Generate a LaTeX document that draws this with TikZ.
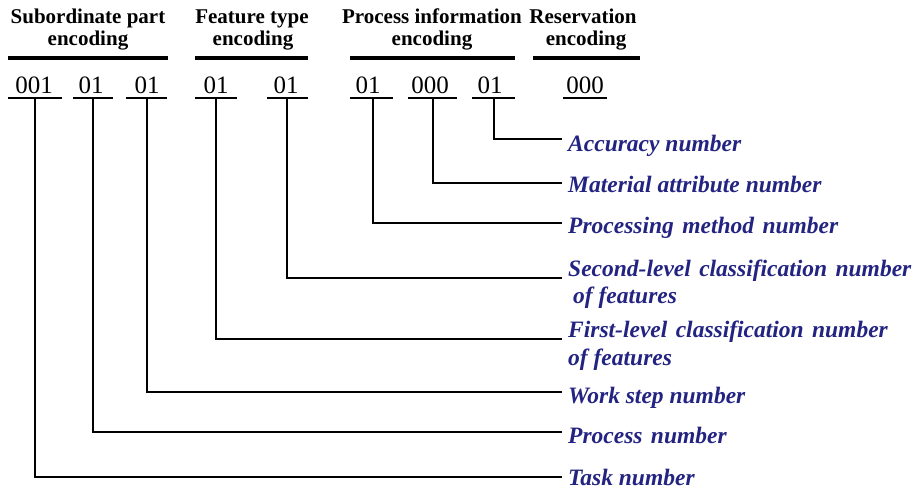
\documentclass[tikz,border=0pt]{standalone}
\usepackage{fontspec}
\setmainfont{Liberation Serif}
\definecolor{labc}{RGB}{35,35,130}
\newcommand{\xsp}{\hspace{2.5pt}}
\begin{document}
\begin{tikzpicture}[x=1pt,y=-1pt,
  head/.style={font=\fontsize{21}{22}\selectfont\bfseries, inner sep=0pt, anchor=base},
  dig/.style={font=\fontsize{25}{25}\selectfont, inner sep=0pt, anchor=base},
  lab/.style={font=\fontsize{23.5}{27}\selectfont\bfseries\itshape, text=labc, inner sep=0pt, anchor=base west},
  grp/.style={line width=3.5pt},
  ul/.style={line width=1.6pt},
  conn/.style={line width=1.6pt}]
\useasboundingbox (0,0) rectangle (915,491);
% headers
\node[head] (h1a) at (88,23) {Subordinate part};
\node[head] (h1b) at (88,45) {encoding};
\node[head] (h2a) at (252,23) {Feature type};
\node[head] (h2b) at (253,45) {encoding};
\node[head] (h3a) at (432,23) {Process information};
\node[head] (h3b) at (432,45) {encoding};
\node[head] (h4a) at (583,23) {Reservation};
\node[head] (h4b) at (586,45) {encoding};
% group underlines
\draw[grp] (8,58) -- (168,58);
\draw[grp] (195,58) -- (308,58);
\draw[grp] (350,58) -- (515,58);
\draw[grp] (533,58) -- (640,58);
% digits
\node[dig] (d1) at (34,93) {001};
\node[dig] (d2) at (91,93) {01};
\node[dig] (d3) at (147,93) {01};
\node[dig] (d4) at (216,93) {01};
\node[dig] (d5) at (286,93) {01};
\node[dig] (d6) at (368,93) {01};
\node[dig] (d7) at (430,93) {000};
\node[dig] (d8) at (490,93) {01};
\node[dig] (d9) at (585,93) {000};
% digit underlines
\draw[ul] (8,98) -- (62,98);
\draw[ul] (73,98) -- (113,98);
\draw[ul] (126,98) -- (167,98);
\draw[ul] (195,98) -- (237,98);
\draw[ul] (267,98) -- (308,98);
\draw[ul] (350,98) -- (393,98);
\draw[ul] (408,98) -- (457,98);
\draw[ul] (472,98) -- (515,98);
\draw[ul] (563,98) -- (607,98);
% connector start points
\coordinate (u1) at (35,98);
\coordinate (u2) at (93,98);
\coordinate (u3) at (147,98);
\coordinate (u4) at (216,98);
\coordinate (u5) at (287,98);
\coordinate (u6) at (373,98);
\coordinate (u7) at (433,98);
\coordinate (u8) at (494,98);
% connector ends
\coordinate (e1) at (562,477);
\coordinate (e2) at (562,432);
\coordinate (e3) at (562,392);
\coordinate (e4) at (562,339);
\coordinate (e5) at (562,278);
\coordinate (e6) at (562,223);
\coordinate (e7) at (562,183);
\coordinate (e8) at (562,139);
% labels
\node[lab] (t1) at (568,485) {Task number};
\node[lab] (t2) at (568,443) {Process\xsp{} number};
\node[lab] (t3) at (568,403) {Work step number};
\node[lab] (t4) at (568,337) {First-level\xsp{} classification\xsp{} number};
\node[lab] (t4b) at (568,365) {of features};
\node[lab] (t5) at (568,276) {Second-level\xsp{} classification\xsp{} number};
\node[lab] (t5b) at (573,303) {of features};
\node[lab] (t6) at (568,233) {Processing\xsp{} method\xsp{} number};
\node[lab] (t7) at (568,192) {Material attribute number};
\node[lab] (t8) at (568,151) {Accuracy number};
% connectors
\draw[conn] (u1) |- (e1);
\draw[conn] (u2) |- (e2);
\draw[conn] (u3) |- (e3);
\draw[conn] (u4) |- (e4);
\draw[conn] (u5) |- (e5);
\draw[conn] (u6) |- (e6);
\draw[conn] (u7) |- (e7);
\draw[conn] (u8) |- (e8);
\end{tikzpicture}
\end{document}
